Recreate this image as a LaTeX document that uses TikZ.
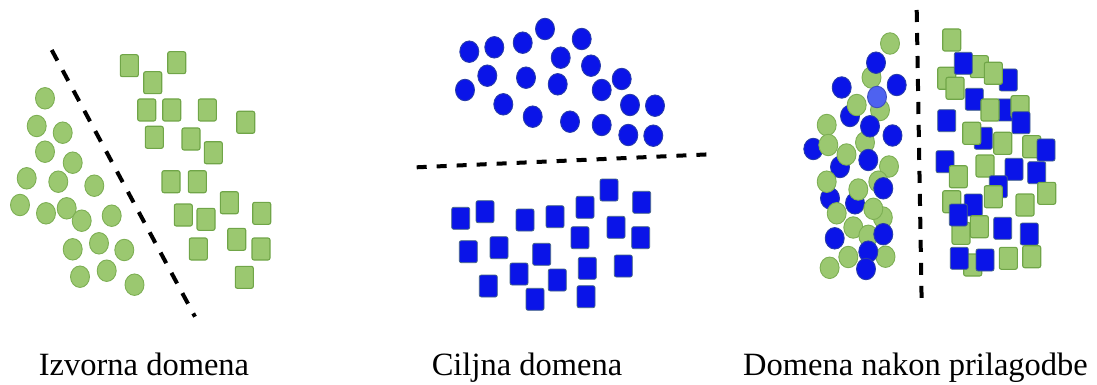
\documentclass[tikz,border=0pt]{standalone}
\usepackage{fontspec}
\setmainfont{Liberation Serif}
\usetikzlibrary{shapes.geometric}

\definecolor{leaf}{RGB}{155,200,112}
\definecolor{leafedge}{RGB}{112,165,72}
\definecolor{ink}{RGB}{10,20,232}
\definecolor{inkedge}{RGB}{40,60,170}
\definecolor{inklight}{RGB}{78,98,240}

\begin{document}
\begin{tikzpicture}[x=1pt,y=-1pt,
  dot/.style={ellipse,inner sep=0pt,minimum width=19pt,minimum height=21.5pt,line width=0.9pt},
  box/.style={rectangle,rounded corners=2pt,inner sep=0pt,minimum width=18pt,minimum height=22pt},
  gdot/.style={dot,fill=leaf,draw=leafedge!70!leaf},
  bdot/.style={dot,fill=ink,draw=inkedge},
  ldot/.style={dot,fill=inklight,draw=inklight!80!black},
  gbox/.style={box,fill=leaf,draw=leafedge,line width=1.1pt},
  bbox/.style={box,fill=ink,draw=inkedge!60!leafedge,line width=0.8pt},
  divider/.style={line width=4pt,dash pattern=on 12pt off 11pt,black},
  caption/.style={anchor=base,font=\fontsize{32.5}{39}\selectfont,inner sep=0pt}]

\path[use as bounding box] (0,0) rectangle (1097,385);

% ---------- source domain: green circles and squares ----------
\foreach \x/\y [count=\i] in {45/98.3, 36.7/126, 62.7/132.7, 45/151.7, 72.7/162.7,
    26.7/178.3, 58.3/181.7, 94.3/185.7, 20/205, 46/213.3, 66.7/208.3, 81.7/220.7,
    111.7/215.7, 72.7/249.3, 99/243.3, 124.3/250, 80/276.7, 106.7/270.7, 134.5/284.7}
  \node[gdot] (sc\i) at (\x,\y) {};
\foreach \x/\y [count=\i] in {129.3/65.7, 176.7/62.7, 152.7/82.7, 146.7/110, 171.7/110,
    207.3/110, 245.7/122.3, 154.3/137.3, 191/139, 213.3/152.7, 171/181.7, 197.3/181.7,
    183.3/215, 206/219.3, 229.3/202.7, 261.7/213.3, 198.3/249, 236.7/239.3, 261/249, 244.3/277.3}
  \node[gbox] (ss\i) at (\x,\y) {};
\coordinate (d1a) at (51.7,50);
\coordinate (d1b) at (195,316.7);
\draw[divider] (d1a) -- (d1b);

% ---------- target domain: blue circles and squares ----------
\foreach \x/\y [count=\i] in {469.3/51.7, 494.3/47.3, 522.7/42.7, 545/29, 581.7/39,
    560.7/57.7, 591/65.7, 621.7/79, 487.3/75.7, 526/77.7, 557.7/84.3, 601.7/90,
    465/90, 503.3/104.3, 532.7/116.7, 570/121.7, 601.7/125, 630/105, 655/105.7,
    628.3/135, 653.3/135.7}
  \node[bdot] (tc\i) at (\x,\y) {};
\foreach \x/\y [count=\i] in {460.7/218.3, 485/211.7, 525/220, 555/216.7, 585/207.3,
    609/190, 641.7/202.3, 468.3/251.7, 499/247.7, 541.7/254.3, 580/237.7, 616/227.3,
    640.7/237.7, 488.3/286, 519/274, 557.3/280, 587.3/268.3, 623.3/266, 535/299.3, 586/296.7}
  \node[bbox] (ts\i) at (\x,\y) {};
\coordinate (d2a) at (416.7,167.3);
\coordinate (d2b) at (710,154.3);
\draw[divider,dash pattern=on 10pt off 10pt] (d2a) -- (d2b);

% ---------- adapted domain: mixed circles (left) and squares (right) ----------
% blue circles partly hidden behind green ones
\foreach \x/\y [count=\i] in {850/116, 813.3/149, 840/167, 830/198.3, 855/203.3}
  \node[bdot] (ac\i) at (\x,\y) {};
\foreach \x/\y [count=\i] in {890/43.5, 871.5/77.5, 880/110, 856.7/105, 826.7/125,
    865/142.5, 828.3/145, 846.5/154.5, 889/166.5, 826.7/181.7, 878.3/181.7, 858.3/189.5,
    836.7/213.3, 882.8/217.5, 873.3/208.8, 853.3/227.5, 868.3/235.8, 848.3/257,
    885.5/256.7, 829.6/267.8}
  \node[gdot] (ag\i) at (\x,\y) {};
\foreach \x/\y [count=\i] in {876/62.7, 896.7/85, 841.7/87.5, 870/126.3, 892.5/135.5,
    868.3/160, 883.3/188.3, 883.3/234.2, 834.7/238.3, 868.3/251.7, 866/269}
  \node[bdot] (ab\i) at (\x,\y) {};
\node[ldot] (al1) at (877,97) {};

% squares, listed from back to front
\foreach \k/\x/\y [count=\i] in {g/951.7/40, g/946.7/78.3, g/979.3/66.7, b/963.3/63.3,
    g/955/88.3, b/1008.3/80, g/993.3/73.3, b/974.3/99.3, b/1005/110, g/990/110,
    g/1020/106.7, b/1021/122.7, b/946.7/120.7, b/983.3/138.3, g/971.7/133.3,
    g/1002.7/143.3, g/1031.7/146.7, b/1046/150, b/945/161.7, g/958.3/176.7,
    g/985/166, b/1014/169.3, b/1036.7/172.7, b/998.3/186.7, g/993.3/196.7,
    g/1046.7/193.3, g/951.7/201.7, g/961/233.3, b/973.3/205, b/958.3/215,
    g/979.3/226.7, g/1025/205, b/1002.7/228.3, b/1029.3/234, g/972.7/265,
    b/959.3/258.3, b/985/260, g/1008.3/258.3, g/1031.7/256.7}
  \node[\k box] (as\i) at (\x,\y) {};
\coordinate (d3a) at (916.7,10);
\coordinate (d3b) at (921.7,305);
\draw[divider] (d3a) -- (d3b);

% ---------- captions ----------
\node[caption] (cap1) at (144,375) {Izvorna domena};
\node[caption] (cap2) at (527,375) {Ciljna domena};
\node[caption] (cap3) at (915.5,375) {Domena nakon prilagodbe};
\end{tikzpicture}
\end{document}
